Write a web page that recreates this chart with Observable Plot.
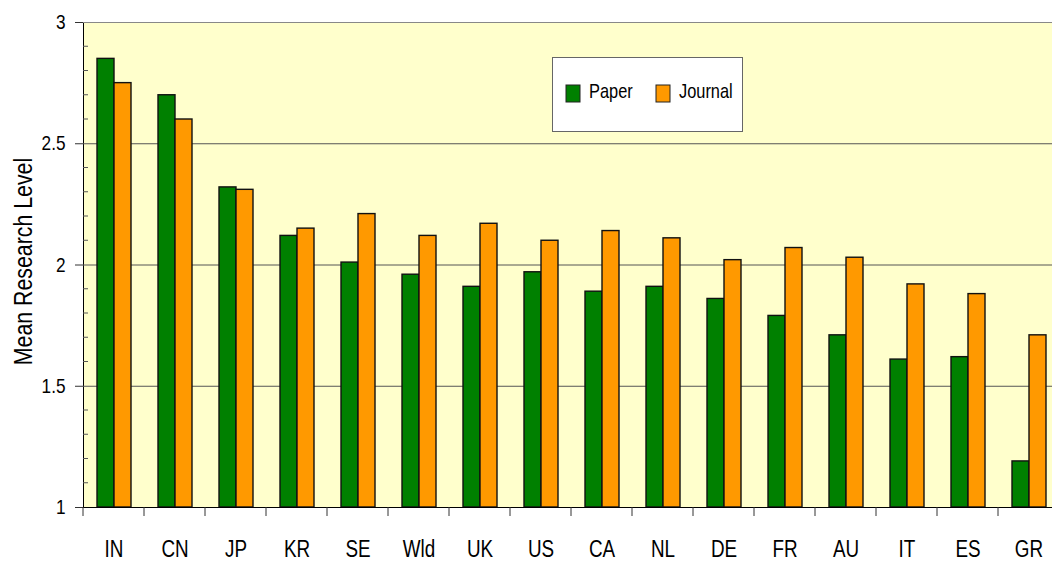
<!DOCTYPE html>
<html>
<head>
<meta charset="utf-8">
<script src="https://cdn.jsdelivr.net/npm/d3@7"></script>
<script src="https://cdn.jsdelivr.net/npm/@observablehq/plot@0.6"></script>
<style>
  body { margin: 0; background: #ffffff; }
  #wrap { position: relative; width: 1052px; height: 562px; overflow: hidden; }
  #legend { position: absolute; left: 552px; top: 57px; }
</style>
</head>
<body>
<div id="wrap"><div id="chart"></div><div id="legend"></div></div>
<script>
const FONT = '"Liberation Sans Narrow","Arial Narrow","Liberation Sans",Arial,sans-serif';
const NARROW = 0.82; // horizontal squeeze to mimic a narrow face

// ---- data ----
const countries = ["IN","CN","JP","KR","SE","Wld","UK","US","CA","NL","DE","FR","AU","IT","ES","GR"];
const paper   = [2.85, 2.70, 2.32, 2.12, 2.01, 1.96, 1.91, 1.97, 1.89, 1.91, 1.86, 1.79, 1.71, 1.61, 1.62, 1.19];
const journal = [2.75, 2.60, 2.31, 2.15, 2.21, 2.12, 2.17, 2.10, 2.14, 2.11, 2.02, 2.07, 2.03, 1.92, 1.88, 1.71];
const seriesNames = ["Paper", "Journal"];
const seriesColors = ["#008000", "#ff9900"];
const yDomain = [1, 3];
const yTicks = [1, 1.5, 2, 2.5, 3];
const yGrid = [1.5, 2, 2.5];
const yMinorTicks = [1.1,1.2,1.3,1.4,1.6,1.7,1.8,1.9,2.1,2.2,2.3,2.4,2.6,2.7,2.8,2.9];
const yLabel = "Mean Research Level";

const rows = countries.flatMap((c, i) => [
  {country: c, series: seriesNames[0], value: paper[i]},
  {country: c, series: seriesNames[1], value: journal[i]}
]);

const chart = Plot.plot({
  width: 1052,
  height: 562,
  marginTop: 22,
  marginBottom: 55,
  marginLeft: 82,
  marginRight: -7,
  style: {fontFamily: FONT, fontSize: "21px", background: "transparent", color: "#000", overflow: "visible"},
  fx: {domain: countries, padding: 0, axis: "bottom", label: null, tickSize: 0, tickPadding: 33},
  x: {domain: seriesNames, axis: null, paddingInner: 0, paddingOuter: 0.745},
  y: {domain: yDomain, ticks: yTicks, tickSize: 8, tickPadding: 10, line: true, label: null, tickFormat: d => String(d)},
  color: {domain: seriesNames, range: seriesColors},
  marks: [
    Plot.ruleY(yGrid, {stroke: "#555", strokeWidth: 1}),
    Plot.ruleY([yDomain[1]], {stroke: "#888", strokeWidth: 1}),
    Plot.barY(rows, {fx: "country", x: "series", y1: () => yDomain[0], y2: "value", fill: "series", stroke: "#111", strokeWidth: 1.4}),
    Plot.ruleY([yDomain[0]], {stroke: "#000", strokeWidth: 1})
  ]
});
document.getElementById("chart").appendChild(chart);

const svg = d3.select(chart);
const fx = chart.scale("fx");
const y = chart.scale("y");
const bw = fx.bandwidth;
const x0 = fx.apply(countries[0]);
const x1 = fx.apply(countries[countries.length - 1]) + bw;
const yTop = y.apply(yDomain[1]);
const yBot = y.apply(yDomain[0]);

// plot background
svg.insert("rect", ":first-child")
  .attr("x", x0).attr("y", yTop).attr("width", x1 - x0).attr("height", yBot - yTop)
  .attr("fill", "#ffffcc");

// fx label size
svg.selectAll('[aria-label^="fx-axis"] text').style("font-size", "23px");
svg.selectAll('[aria-label^="y-axis"] path, [aria-label^="y-axis"] line').attr("stroke", "#333");

// category boundary ticks
svg.append("g").selectAll("line").data(countries).join("line")
  .attr("x1", d => fx.apply(d)).attr("x2", d => fx.apply(d))
  .attr("y1", yBot).attr("y2", yBot + 9)
  .attr("stroke", "#333");

// minor y ticks
svg.append("g").selectAll("line").data(yMinorTicks).join("line")
  .attr("x1", x0).attr("x2", x0 + 5)
  .attr("y1", d => y.apply(d)).attr("y2", d => y.apply(d))
  .attr("stroke", "#555");

// y axis label
svg.append("text")
  .attr("transform", `translate(32,${(yTop + yBot) / 2 - 3}) rotate(-90)`)
  .attr("text-anchor", "middle")
  .style("font-family", FONT).style("font-size", "26px")
  .attr("fill", "#000")
  .text(yLabel);

// legend
const lg = d3.select("#legend").append("svg").attr("width", 192).attr("height", 76);
lg.append("rect").attr("x", 0.5).attr("y", 0.5).attr("width", 190).attr("height", 74)
  .attr("fill", "#fff").attr("stroke", "#666");
const legendX = [14, 104];
seriesNames.forEach((s, i) => {
  lg.append("rect").attr("x", legendX[i]).attr("y", 28).attr("width", 14).attr("height", 17)
    .attr("fill", seriesColors[i]).attr("stroke", "#222").attr("stroke-width", 1);
  lg.append("text").attr("x", legendX[i] + 23).attr("y", 41)
    .style("font-family", FONT).style("font-size", "20px").attr("fill", "#000")
    .text(s);
});

// squeeze all text horizontally around its anchor (narrow-face look)
function squeeze(root) {
  root.querySelectorAll("text").forEach(el => {
    const b = el.getBBox();
    const anchor = getComputedStyle(el).textAnchor;
    const ax = anchor === "end" ? b.x + b.width : anchor === "middle" ? b.x + b.width / 2 : b.x;
    const t = el.getAttribute("transform") || "";
    el.setAttribute("transform", `${t} translate(${ax},0) scale(${NARROW},1) translate(${-ax},0)`);
  });
}
squeeze(chart);
squeeze(lg.node());
</script>
</body>
</html>
